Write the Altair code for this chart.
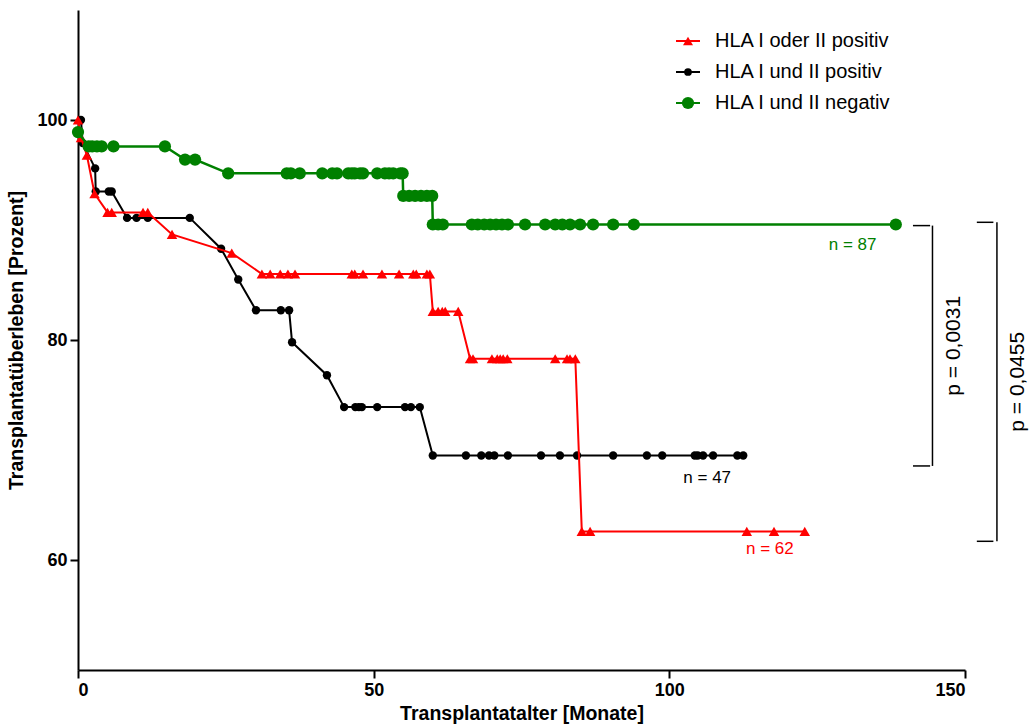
import altair as alt
import pandas as pd

series_names = ["HLA I oder II positiv", "HLA I und II positiv", "HLA I und II negativ"]
series_colors = ["#ff0000", "#000000", "#008000"]

red_x = [0, 0.5, 1.5, 2.8, 5.0, 5.7, 11.0, 11.8, 15.9, 26.0,
         31.1, 32.5, 34.2, 35.5, 36.7, 46.3, 46.8, 48.2, 51.4, 54.3, 56.7, 57.2, 59.0, 59.5,
         60.0, 60.9, 61.6, 62.1, 64.3,
         66.3, 66.8, 70.0, 70.9, 71.4, 71.9, 72.6, 80.7, 82.7, 83.2, 84.1,
         85.2, 86.6, 113.1, 117.7, 122.9]
red_y = [100, 98.4, 96.8, 93.3, 91.6, 91.6, 91.6, 91.6, 89.6, 87.9,
         86.0, 86.0, 86.0, 86.0, 86.0, 86.0, 86.0, 86.0, 86.0, 86.0, 86.0, 86.0, 86.0, 86.0,
         82.6, 82.6, 82.6, 82.6, 82.6,
         78.3, 78.3, 78.3, 78.3, 78.3, 78.3, 78.3, 78.3, 78.3, 78.3, 78.3,
         62.6, 62.6, 62.6, 62.6, 62.6]

black_x = [0.5, 0.8, 2.9, 3.0, 5.2, 5.7, 8.3, 9.9, 11.8, 18.9, 24.2, 27.1,
           30.1, 34.3, 35.7, 36.2, 42.1,
           45.0, 46.9, 47.5, 48.0, 50.6, 55.3, 56.3, 57.8,
           60.0, 65.6, 68.2, 69.5, 70.4, 72.7, 78.3, 81.5, 84.4, 90.5, 96.2, 98.8,
           104.3, 104.8, 105.7, 107.4, 111.5, 112.5]
black_y = [100, 97.9, 95.6, 93.5, 93.5, 93.5, 91.1, 91.1, 91.1, 91.1, 88.3, 85.5,
           82.7, 82.7, 82.7, 79.8, 76.8,
           73.9, 73.9, 73.9, 73.9, 73.9, 73.9, 73.9, 73.9,
           69.5, 69.5, 69.5, 69.5, 69.5, 69.5, 69.5, 69.5, 69.5, 69.5, 69.5, 69.5,
           69.5, 69.5, 69.5, 69.5, 69.5, 69.5]

green_x = [0, 1.8, 2.4, 3.2, 4.0, 6.0, 14.7, 18.1, 19.8,
           25.4, 35.3, 36.0, 37.5, 41.3, 43.0, 43.8, 45.7, 46.3, 46.8, 47.7, 48.2,
           50.6, 51.9, 52.6, 53.3, 54.5, 54.9,
           55.0, 56.0, 57.0, 58.0, 59.0, 59.9,
           60.0, 60.9, 61.7, 66.6, 67.6, 68.7, 69.7, 70.7, 71.7, 72.7, 75.6, 79.0,
           80.7, 81.9, 83.2, 84.9, 87.1, 90.5, 94.0, 138.3]
green_y = [98.9, 97.6, 97.6, 97.6, 97.6, 97.6, 97.6, 96.4, 96.4,
           95.15, 95.15, 95.15, 95.15, 95.15, 95.15, 95.15, 95.15, 95.15, 95.15, 95.15, 95.15,
           95.15, 95.15, 95.15, 95.15, 95.15, 95.15,
           93.1, 93.1, 93.1, 93.1, 93.1, 93.1,
           90.5, 90.5, 90.5, 90.5, 90.5, 90.5, 90.5, 90.5, 90.5, 90.5, 90.5, 90.5,
           90.5, 90.5, 90.5, 90.5, 90.5, 90.5, 90.5, 90.5]

n_labels = ["n = 62", "n = 47", "n = 87"]
n_x = [117.0, 106.4, 131.0]
n_y = [61.0, 67.5, 88.6]

p_labels = ["p = 0,0031", "p = 0,0455"]
br_top = [90.4, 90.7]
br_bottom = [68.55, 61.7]
br_x = [144.5, 155.4]
br_tick_x0 = [141.2, 152.0]
br_tick_x1 = [144.1, 154.8]
p_text_x = [148.1, 158.9]

rows = []
for name, xs, ys in [(series_names[0], red_x, red_y),
                     (series_names[1], black_x, black_y),
                     (series_names[2], green_x, green_y)]:
    for i, (xv, yv) in enumerate(zip(xs, ys)):
        rows.append({"series": name, "x": xv, "y": yv, "idx": i})
df = pd.DataFrame(rows)

n_df = pd.DataFrame({"series": series_names, "label": n_labels, "x": n_x, "y": n_y})
br_df = pd.DataFrame({"label": p_labels, "top": br_top, "bottom": br_bottom,
                      "x": br_x, "x0": br_tick_x0, "x1": br_tick_x1, "tx": p_text_x})
br_df["mid"] = (br_df["top"] + br_df["bottom"]) / 2

xscale = alt.Scale(domain=[0, 150], nice=False, zero=False)
yscale = alt.Scale(domain=[50, 110], nice=False, zero=False)

axis_font = "Liberation Sans Narrow, Arial Narrow, Liberation Sans"
axis_common = dict(grid=False, domainColor="black", domainWidth=2, tickColor="black",
                   tickWidth=2, tickSize=8, labelColor="black",
                   labelFont=axis_font, labelFontWeight="bold", labelFontSize=18,
                   titleFont=axis_font, titleFontWeight="bold", titleFontSize=19.5,
                   titleColor="black")

X = alt.X("x:Q", scale=xscale,
          axis=alt.Axis(values=[0, 50, 100, 150], title="Transplantatalter [Monate]",
                        labelPadding=3, titlePadding=5, **axis_common))
Y = alt.Y("y:Q", scale=yscale,
          axis=alt.Axis(values=[60, 80, 100], title="Transplantatüberleben [Prozent]",
                        labelPadding=3, titlePadding=10, **axis_common))

color = alt.Color("series:N", scale=alt.Scale(domain=series_names, range=series_colors),
                  legend=None)

marker = {series_names[0]: ("triangle-up", 110, 2),
          series_names[1]: ("circle", 70, 2),
          series_names[2]: ("circle", 150, 2.5)}

layers = []
for name in [series_names[1], series_names[0], series_names[2]]:
    shp, sz, sw = marker[name]
    sub = alt.Chart(df).transform_filter(alt.datum.series == name)
    layers.append(sub.mark_line(strokeWidth=sw).encode(
        x=X, y=Y, color=color, order=alt.Order("idx:Q")))
    layers.append(sub.mark_point(shape=shp, size=sz, filled=True, opacity=1).encode(
        x=X, y=Y, color=color))

# manual legend (line + marker + label), positioned in pixels
leg_layers = []
leg_marker = {series_names[0]: ("triangle-up", 100),
              series_names[1]: ("circle", 60),
              series_names[2]: ("circle", 150)}
for i, name in enumerate(series_names):
    one = alt.Chart(pd.DataFrame({"series": [name]}))
    ypix = 31 + 31 * i
    shp, sz = leg_marker[name]
    leg_layers.append(one.mark_rule(strokeWidth=2).encode(
        x=alt.value(598), x2=alt.value(622), y=alt.value(ypix), color=color))
    leg_layers.append(one.mark_point(shape=shp, size=sz, filled=True, opacity=1).encode(
        x=alt.value(610), y=alt.value(ypix), color=color))
    leg_layers.append(one.mark_text(font="Liberation Sans, Arial", fontSize=20,
                                    align="left", baseline="middle", color="black").encode(
        x=alt.value(637), y=alt.value(ypix), text="series:N"))

n_text = alt.Chart(n_df).mark_text(font="Liberation Sans, Arial", fontSize=17,
                                   align="center", baseline="middle").encode(
    x=X, y=Y, text="label:N", color=color)

br_v = alt.Chart(br_df).mark_rule(color="black", strokeWidth=1.5).encode(
    x=alt.X("x:Q", scale=xscale), y=alt.Y("top:Q", scale=yscale), y2="bottom:Q")
br_t1 = alt.Chart(br_df).mark_rule(color="black", strokeWidth=1.5).encode(
    x=alt.X("x0:Q", scale=xscale), x2="x1:Q", y=alt.Y("top:Q", scale=yscale))
br_t2 = alt.Chart(br_df).mark_rule(color="black", strokeWidth=1.5).encode(
    x=alt.X("x0:Q", scale=xscale), x2="x1:Q", y=alt.Y("bottom:Q", scale=yscale))
p_text = alt.Chart(br_df).mark_text(font="Liberation Sans, Arial", fontSize=21,
                                    angle=270, align="center", baseline="middle",
                                    color="black").encode(
    x=alt.X("tx:Q", scale=xscale), y=alt.Y("mid:Q", scale=yscale), text="label:N")

chart = alt.layer(*layers, n_text, br_v, br_t1, br_t2, p_text, *leg_layers).properties(
    width=887, height=660,
    autosize=alt.AutoSizeParams(type="none"),
    padding={"left": 78, "top": 10, "right": 68, "bottom": 58},
    background="white",
).configure_view(stroke=None)

chart.save("out.html", embed_options={"renderer": "svg", "actions": False})
